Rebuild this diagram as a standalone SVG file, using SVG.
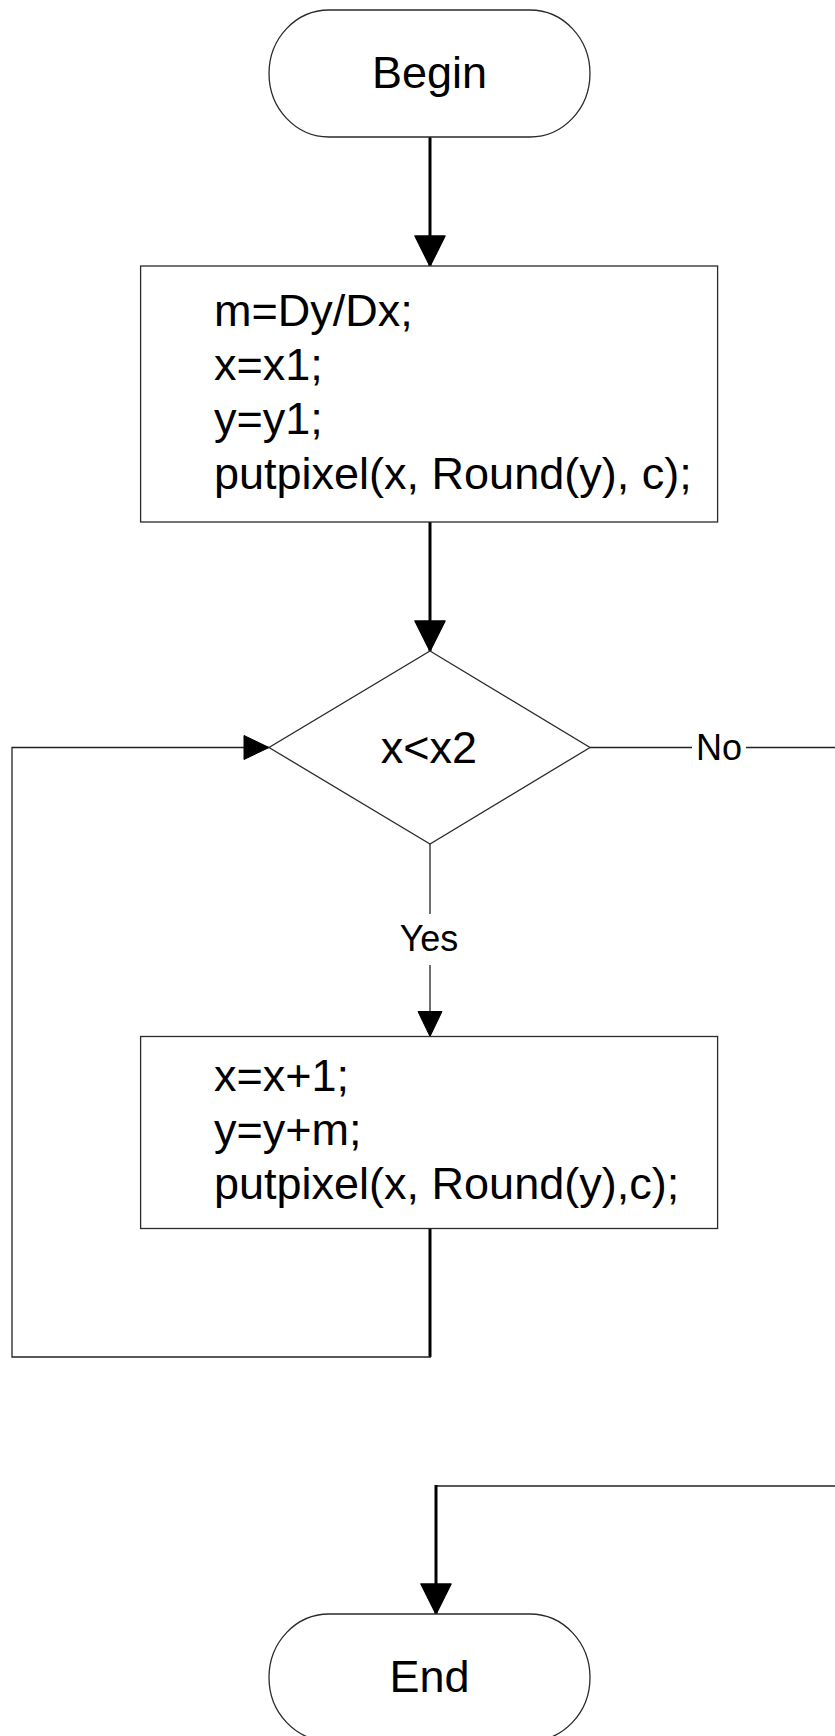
<svg xmlns="http://www.w3.org/2000/svg" width="835" height="1736" viewBox="0 0 835 1736">
  <style>
    .shape { fill: #ffffff; stroke: #2a2a2a; stroke-width: 1.3; }
    .txt { font-family: "Liberation Sans", Arial, sans-serif; font-size: 45px; fill: #000; }
    .lbl { font-family: "Liberation Sans", Arial, sans-serif; font-size: 36px; fill: #000; text-anchor: middle; }
    .thick { fill: none; stroke: #000; stroke-width: 3; }
    .thin { fill: none; stroke: #222; stroke-width: 1.3; }
    .bg { fill: #ffffff; stroke: none; }
  </style>
  <defs>
    <marker id="bigArrow" viewBox="0 0 31 32" markerUnits="userSpaceOnUse" markerWidth="31" markerHeight="32" refX="31" refY="16" orient="auto">
      <path d="M1,1 L31,16 L1,31 Z" fill="#000" stroke="#000" stroke-width="1.5" stroke-linejoin="round"/>
    </marker>
    <marker id="smallArrow" viewBox="0 0 26 26" markerUnits="userSpaceOnUse" markerWidth="26" markerHeight="26" refX="26" refY="13" orient="auto">
      <path d="M1,1 L26,13 L1,25 Z" fill="#000" stroke="#000" stroke-width="1" stroke-linejoin="round"/>
    </marker>
  </defs>

  <g id="connectors">
    <path class="thick" d="M430,137 V266" marker-end="url(#bigArrow)"/>
    <path class="thick" d="M430,522 V651" marker-end="url(#bigArrow)"/>
    <path class="thin" d="M430,844 V1036.5" marker-end="url(#smallArrow)"/>
    <rect class="bg" x="395" y="914" width="70" height="51"/>
    <text class="lbl" x="429" y="950.5">Yes</text>
    <path class="thin" d="M590,747.5 H835"/>
    <rect class="bg" x="692" y="725" width="54" height="45"/>
    <text class="lbl" x="719" y="759.5">No</text>
    <path class="thin" d="M835,1486 H436"/>
    <path class="thick" d="M436,1485 V1614" marker-end="url(#bigArrow)"/>
    <path class="thick" d="M430,1228 V1357"/>
    <path class="thin" d="M431,1357 H12 V747.5 H269" marker-end="url(#smallArrow)"/>
  </g>

  <g id="begin">
    <path class="shape" d="M329,10 H530 A60,63.5 0 0 1 530,137 H329 A60,63.5 0 0 1 329,10 Z"/>
    <text class="txt" x="429.5" y="87.5" text-anchor="middle">Begin</text>
  </g>

  <g id="init">
    <rect class="shape" x="140.6" y="266" width="577" height="256"/>
    <text class="txt" x="214" y="326">m=Dy/Dx;</text>
    <text class="txt" x="214" y="380.2">x=x1;</text>
    <text class="txt" x="214" y="434.4">y=y1;</text>
    <text class="txt" x="214" y="488.6">putpixel(x, Round(y), c);</text>
  </g>

  <g id="decision">
    <path class="shape" d="M430,651 L590,747.5 L430,844 L269,747.5 Z"/>
    <text class="txt" x="429" y="762.7" text-anchor="middle">x&lt;x2</text>
  </g>

  <g id="step">
    <rect class="shape" x="140.6" y="1036.5" width="577" height="192"/>
    <text class="txt" x="214" y="1090.7">x=x+1;</text>
    <text class="txt" x="214" y="1145">y=y+m;</text>
    <text class="txt" x="214" y="1199.3">putpixel(x, Round(y),c);</text>
  </g>

  <g id="end">
    <path class="shape" d="M329,1614 H530 A60,63.5 0 0 1 530,1741 H329 A60,63.5 0 0 1 329,1614 Z"/>
    <text class="txt" x="429.5" y="1691.7" text-anchor="middle">End</text>
  </g>
</svg>
